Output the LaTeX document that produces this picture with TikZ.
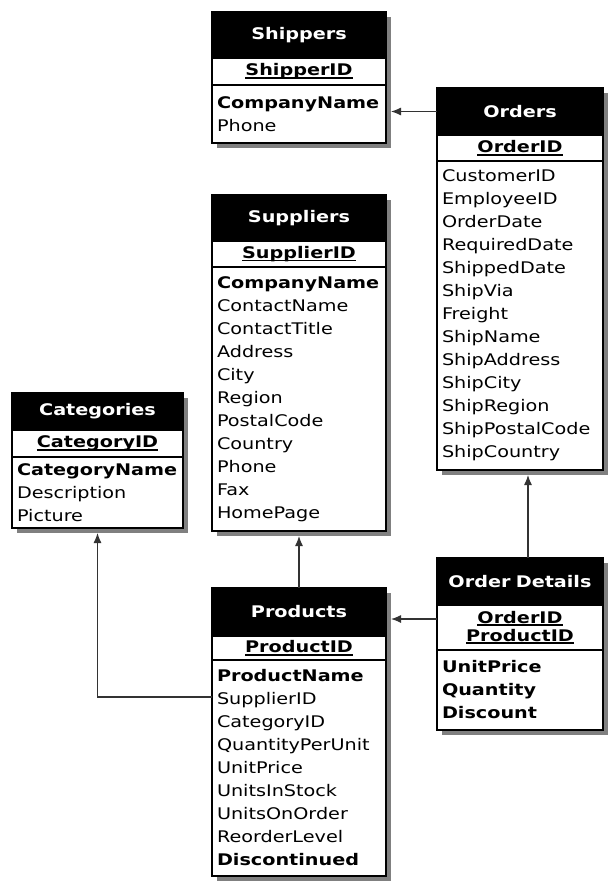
\documentclass[tikz,border=0pt]{standalone}
\usepackage{fontspec}
\setmainfont[FakeStretch=1.2]{DejaVu Sans}
\usetikzlibrary{positioning,shadows,arrows.meta,calc}
\newcommand{\tblfont}{\fontsize{16}{23}\selectfont}
\newcommand{\pk}[1]{\leavevmode\setbox0\hbox{#1}\rlap{\rule[-3pt]{\wd0}{1.6pt}}\box0}

\begin{document}
\begin{tikzpicture}[x=1pt,y=-1pt,
	every node/.style={font=\tblfont},
	tbl/.style={draw, line width=1.6pt, outer sep=0pt, inner xsep=5pt, inner ysep=0pt,
		drop shadow={shadow xshift=5pt, shadow yshift=-5pt, fill=black!50, opacity=1}},
	tbltitle/.style={tbl, fill=black, text=white, font=\tblfont\bfseries, align=center},
	tblkey/.style={tbl, fill=white, font=\fontsize{16}{18}\selectfont\bfseries, align=center},
	tblfields/.style={tbl, fill=white, align=left},
	fk/.style={draw=black!80, line width=1.2pt, -{Latex[length=10pt,width=8pt]}}]
	\useasboundingbox (0,0) rectangle (610,884);

	\node[tbltitle, text width=164pt, minimum height=46pt, anchor=north west] (ship-t) at (212,12) {Shippers};
	\node[tblkey, text width=164pt, minimum height=27pt, below=0pt of ship-t] (ship-k) {\pk{ShipperID}};
	\node[tblfields, text width=164pt, minimum height=58pt, below=0pt of ship-k] (ship-f) {\textbf{CompanyName}\\Phone};

	\node[tbltitle, text width=164pt, minimum height=46pt, anchor=north west] (sup-t) at (212,195) {Suppliers};
	\node[tblkey, text width=164pt, minimum height=26pt, below=0pt of sup-t] (sup-k) {\pk{SupplierID}};
	\node[tblfields, text width=164pt, minimum height=264pt, below=0pt of sup-k] (sup-f) {\textbf{CompanyName}\\ContactName\\ContactTitle\\Address\\City\\Region\\PostalCode\\Country\\Phone\\Fax\\HomePage};

	\node[tbltitle, text width=161pt, minimum height=37pt, anchor=north west] (cat-t) at (12,393) {Categories};
	\node[tblkey, text width=161pt, minimum height=27pt, below=0pt of cat-t] (cat-k) {\pk{CategoryID}};
	\node[tblfields, text width=161pt, minimum height=71pt, below=0pt of cat-k] (cat-f) {\textbf{CategoryName}\\Description\\Picture};

	\node[tbltitle, text width=156pt, minimum height=47pt, anchor=north west] (ord-t) at (437,88) {Orders};
	\node[tblkey, text width=156pt, minimum height=26pt, below=0pt of ord-t] (ord-k) {\pk{OrderID}};
	\node[tblfields, text width=156pt, minimum height=309pt, below=0pt of ord-k] (ord-f) {CustomerID\\EmployeeID\\OrderDate\\RequiredDate\\ShippedDate\\ShipVia\\Freight\\ShipName\\ShipAddress\\ShipCity\\ShipRegion\\ShipPostalCode\\ShipCountry};

	\node[tbltitle, text width=164pt, minimum height=48pt, anchor=north west] (prod-t) at (212,588) {Products};
	\node[tblkey, text width=164pt, minimum height=24pt, below=0pt of prod-t] (prod-k) {\pk{ProductID}};
	\node[tblfields, text width=164pt, minimum height=216pt, below=0pt of prod-k] (prod-f) {\textbf{ProductName}\\SupplierID\\CategoryID\\QuantityPerUnit\\UnitPrice\\UnitsInStock\\UnitsOnOrder\\ReorderLevel\\\textbf{Discontinued}};

	\node[tbltitle, text width=156pt, minimum height=47pt, anchor=north west] (od-t) at (437,558) {Order Details};
	\node[tblkey, text width=156pt, minimum height=45pt, below=0pt of od-t] (od-k) {\pk{OrderID}\\\pk{ProductID}};
	\node[tblfields, text width=156pt, minimum height=80pt, below=0pt of od-k] (od-f) {\textbf{UnitPrice}\\\textbf{Quantity}\\\textbf{Discount}};

	\draw[fk] (ord-t.west) -- ($(ord-t.west -| ship-f.east)+(5,0)$);
	\draw[fk] ($(od-t.north)+(8,0)$) -- ($(od-t.north |- ord-f.south)+(8,5)$);
	\draw[fk] ($(od-k.north west)+(0,14)$) -- ($(od-k.north west -| prod-t.east)+(5,14)$);
	\draw[fk] (prod-t.north) -- ($(sup-f.south)+(0,5)$);
	\draw[fk] ($(prod-f.north west)+(0,37)$) -| ($(cat-f.south)+(0,5)$);
\end{tikzpicture}
\end{document}
